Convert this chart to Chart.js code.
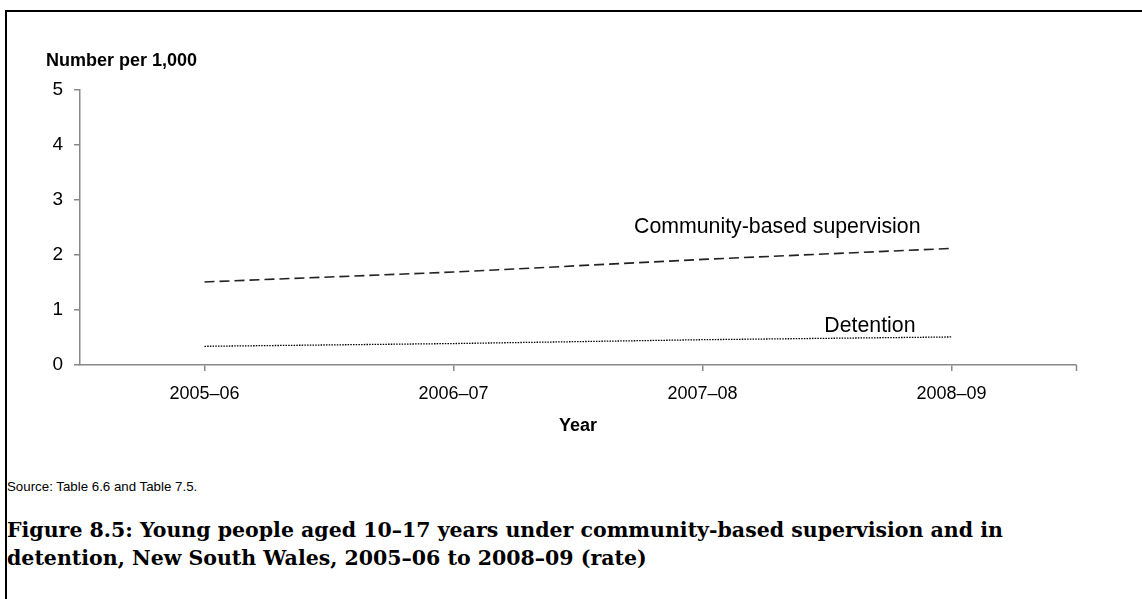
<!DOCTYPE html>
<html>
<head>
<meta charset="utf-8">
<script src="https://cdn.jsdelivr.net/npm/chart.js@4/dist/chart.umd.min.js"></script>
<style>
  html, body { margin:0; padding:0; background:#fff; width:1142px; height:599px; overflow:hidden; }
  #frame { position:absolute; left:5px; top:10px; width:1200px; height:700px; border-left:2px solid #000; border-top:2px solid #000; }
  #wrap { position:absolute; left:0; top:0; width:1142px; height:440px; }
  #source { position:absolute; left:7px; top:479px; font-family:"Liberation Sans", Arial, sans-serif; font-size:13.3px; color:#000; white-space:nowrap; }
  #caption { position:absolute; left:7px; top:516px; font-family:"DejaVu Serif", serif; font-weight:bold; font-size:20.5px; line-height:28px; color:#000; white-space:nowrap; }
</style>
</head>
<body>
<div id="frame"></div>
<div id="wrap"><canvas id="c" width="1142" height="440"></canvas></div>
<div id="source">Source: Table 6.6 and Table 7.5.</div>
<div id="caption">Figure 8.5: Young people aged 10–17 years under community-based supervision and in<br>detention, New South Wales, 2005–06 to 2008–09 (rate)</div>
<script>
const categories = ["2005–06", "2006–07", "2007–08", "2008–09"];
const communityValues = [1.51, 1.69, 1.92, 2.12];
const detentionValues = [0.34, 0.39, 0.46, 0.51];
const seriesNames = ["Community-based supervision", "Detention"];
const yTicks = [0, 1, 2, 3, 4, 5];
const yAxisTitle = "Number per 1,000";
const xAxisTitle = "Year";

const FONT = '"Liberation Sans", Arial, sans-serif';
const AXIS = '#888888';

const labelPlugin = {
  id: 'labels',
  afterDraw(chart) {
    const ctx = chart.ctx;
    const area = chart.chartArea;
    ctx.save();
    ctx.font = 'bold 18px ' + FONT;
    ctx.fillStyle = '#000';
    ctx.textAlign = 'left';
    ctx.textBaseline = 'middle';
    ctx.fillText(yAxisTitle, area.left - 34, area.top - 29);
    ctx.strokeStyle = AXIS;
    ctx.lineWidth = 1.5;
    ctx.beginPath();
    ctx.moveTo(Math.round(area.right) + 0.5, area.bottom);
    ctx.lineTo(Math.round(area.right) + 0.5, area.bottom + 6);
    ctx.stroke();
    ctx.font = '21.3px ' + FONT;
    ctx.textAlign = 'right';
    const offs = [[-31, -21], [-36, -11]];
    chart.data.datasets.forEach((ds, i) => {
      const meta = chart.getDatasetMeta(i);
      const pt = meta.data[meta.data.length - 1];
      ctx.fillText(ds.label, pt.x + offs[i][0], pt.y + offs[i][1]);
    });
    ctx.restore();
  }
};

new Chart(document.getElementById('c'), {
  type: 'line',
  data: {
    labels: categories,
    datasets: [
      { label: seriesNames[0], data: communityValues, borderColor: '#222', borderWidth: 1.6, borderDash: [10, 5], pointRadius: 0, tension: 0, fill: false },
      { label: seriesNames[1], data: detentionValues, borderColor: '#000', borderWidth: 1.3, borderDash: [1.5, 1.2], pointRadius: 0, tension: 0, fill: false }
    ]
  },
  options: {
    responsive: false,
    animation: false,
    devicePixelRatio: 1,
    layout: { padding: { top: 90, right: 66, left: 0, bottom: 0 } },
    plugins: { legend: { display: false }, tooltip: { enabled: false }, title: { display: false } },
    scales: {
      y: {
        min: 0, max: 5,
        afterBuildTicks(scale) { scale.ticks = yTicks.map(v => ({ value: v })); },
        ticks: { font: { family: FONT, size: 19 }, color: '#000', padding: 11 },
        grid: { drawOnChartArea: false, tickLength: 6, color: AXIS, lineWidth: 1.5 },
        border: { color: AXIS, width: 1.5 },
        afterFit(scale) { scale.width = 80; }
      },
      x: {
        offset: true,
        ticks: { font: { family: FONT, size: 18 }, color: '#000', padding: 12, maxRotation: 0 },
        grid: { offset: false, drawOnChartArea: false, tickLength: 6, color: AXIS, lineWidth: 1.5 },
        border: { color: AXIS, width: 1.5 },
        title: { display: true, text: xAxisTitle, font: { family: FONT, size: 18, weight: 'bold' }, color: '#000', padding: { top: 0, bottom: 3 } },
        afterFit(scale) { scale.height = 75; }
      }
    }
  },
  plugins: [labelPlugin]
});
</script>
</body>
</html>
